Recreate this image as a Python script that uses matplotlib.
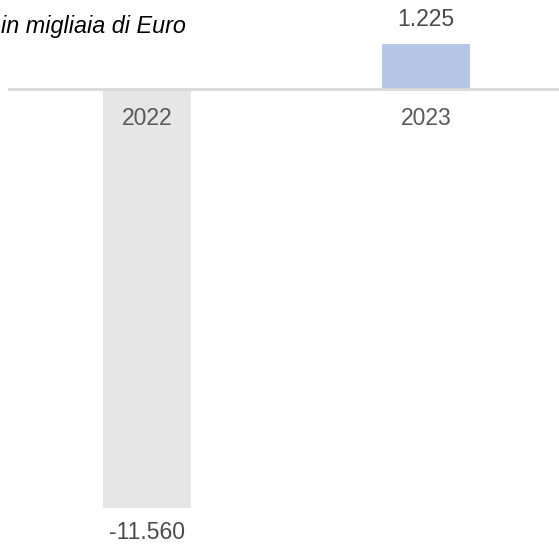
import matplotlib
matplotlib.use("Agg")
import matplotlib.pyplot as plt

categories = ["2022", "2023"]
values = [-11560, 1225]
value_labels = ["-11.560", "1.225"]
colors = ["#e6e6e6", "#b4c7e7"]

plt.rcParams['font.family'] = ['Liberation Sans', 'DejaVu Sans']

W, H = 559, 547
fig = plt.figure(figsize=(W / 100, H / 100), dpi=100)
ax = fig.add_axes([8 / W, 0, 1 - 8 / W, 1])

pxu = 279.0  # px per category
ax.set_xlim(-(147 - 8) / pxu, (559 - 147) / pxu)
s = 44.5 / 1225.0  # px per unit
ax.set_ylim(-(547 - 88.5) / s, 88.5 / s)

x = list(range(len(categories)))
ax.bar(x, values, width=88 / pxu, color=colors, zorder=2)
ax.axhline(0, color="#d9d9d9", lw=2, zorder=3)

for xi, v, lab, cat in zip(x, values, value_labels, categories):
    off = 24.5 if v >= 0 else -24.5
    ax.annotate(lab, (xi, v), xytext=(0, off), textcoords="offset pixels",
                ha="center", va="center", fontsize=16.5, color="#4a4a4a")
    ax.annotate(cat, (xi, 0), xytext=(0, -30), textcoords="offset pixels",
                ha="center", va="center", fontsize=16.5, color="#595959")

fig.text(186 / W, 1 - 33 / H, "in migliaia di Euro", ha="right", va="baseline",
         fontsize=16.8, style="italic", color="black")

ax.axis("off")
fig.savefig("out.png", dpi=100)
